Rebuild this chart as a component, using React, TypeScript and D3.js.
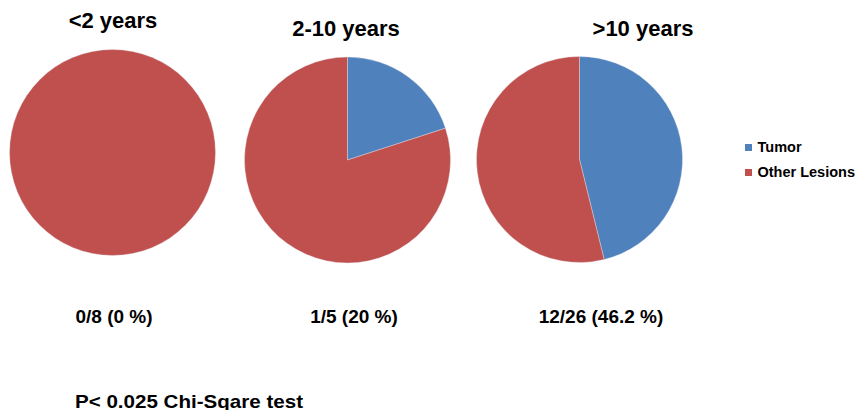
import React from "react";
import * as d3 from "d3";

const groups = ["<2 years", "2-10 years", ">10 years"];
const tumor = [0, 1, 12];
const otherLesions = [8, 4, 14];
const groupLabels = ["0/8 (0 %)", "1/5 (20 %)", "12/26 (46.2 %)"];
const seriesNames = ["Tumor", "Other Lesions"];
const seriesColors = ["#4F81BD", "#C0504D"];
const footnote = "P< 0.025 Chi-Sqare test";

// layout
const W = 856;
const H = 410;
const pieCenters = [
  { x: 112.5, y: 152.5 },
  { x: 347.5, y: 160 },
  { x: 579.5, y: 159.5 },
];
const radius = 103;
const titlePos = [
  { x: 113, y: 28 },
  { x: 346, y: 36 },
  { x: 643, y: 36 },
];
const labelPos = [
  { x: 114, y: 323 },
  { x: 354, y: 323 },
  { x: 601, y: 323 },
];

export default function App() {
  const pie = d3
    .pie<number>()
    .sort(null)
    .value((d) => d);
  const arc = d3.arc<d3.PieArcDatum<number>>().innerRadius(0).outerRadius(radius);
  const color = d3.scaleOrdinal<number, string>().domain([0, 1]).range(seriesColors);

  return (
    <svg
      width={W}
      height={H}
      style={{ position: "absolute", left: 0, top: 0, background: "#fff" }}
      fontFamily="Arial, 'Liberation Sans', sans-serif"
    >
      <rect width={W} height={H} fill="#fff" />
      {groups.map((g, i) => {
        const arcs = pie([tumor[i], otherLesions[i]]);
        return (
          <g key={g}>
            <g transform={`translate(${pieCenters[i].x},${pieCenters[i].y})`}>
              {arcs.map((a, j) =>
                a.value > 0 ? (
                  <path
                    key={j}
                    d={arc(a) || ""}
                    fill={color(j)}
                    stroke="#e8e8f0"
                    strokeWidth={0.6}
                    strokeOpacity={0.6}
                  />
                ) : null
              )}
            </g>
            <text
              x={titlePos[i].x}
              y={titlePos[i].y}
              textAnchor="middle"
              fontSize={22}
              fontWeight="bold"
              fill="#000"
            >
              {g}
            </text>
            <text
              x={labelPos[i].x}
              y={labelPos[i].y}
              textAnchor="middle"
              fontSize={19}
              fontWeight="bold"
              fill="#000"
            >
              {groupLabels[i]}
            </text>
          </g>
        );
      })}
      {seriesNames.map((s, j) => (
        <g key={s} transform={`translate(745,${147 + j * 25})`}>
          <rect x={0} y={-3} width={7} height={7} fill={seriesColors[j]} />
          <text x={12.5} y={5} fontSize={14.5} fontWeight="bold" fill="#000">
            {s}
          </text>
        </g>
      ))}
      <text
        x={75}
        y={408}
        fontSize={19}
        fontWeight="bold"
        fill="#000"
        textLength={228}
        lengthAdjust="spacingAndGlyphs"
      >
        {footnote}
      </text>
    </svg>
  );
}
